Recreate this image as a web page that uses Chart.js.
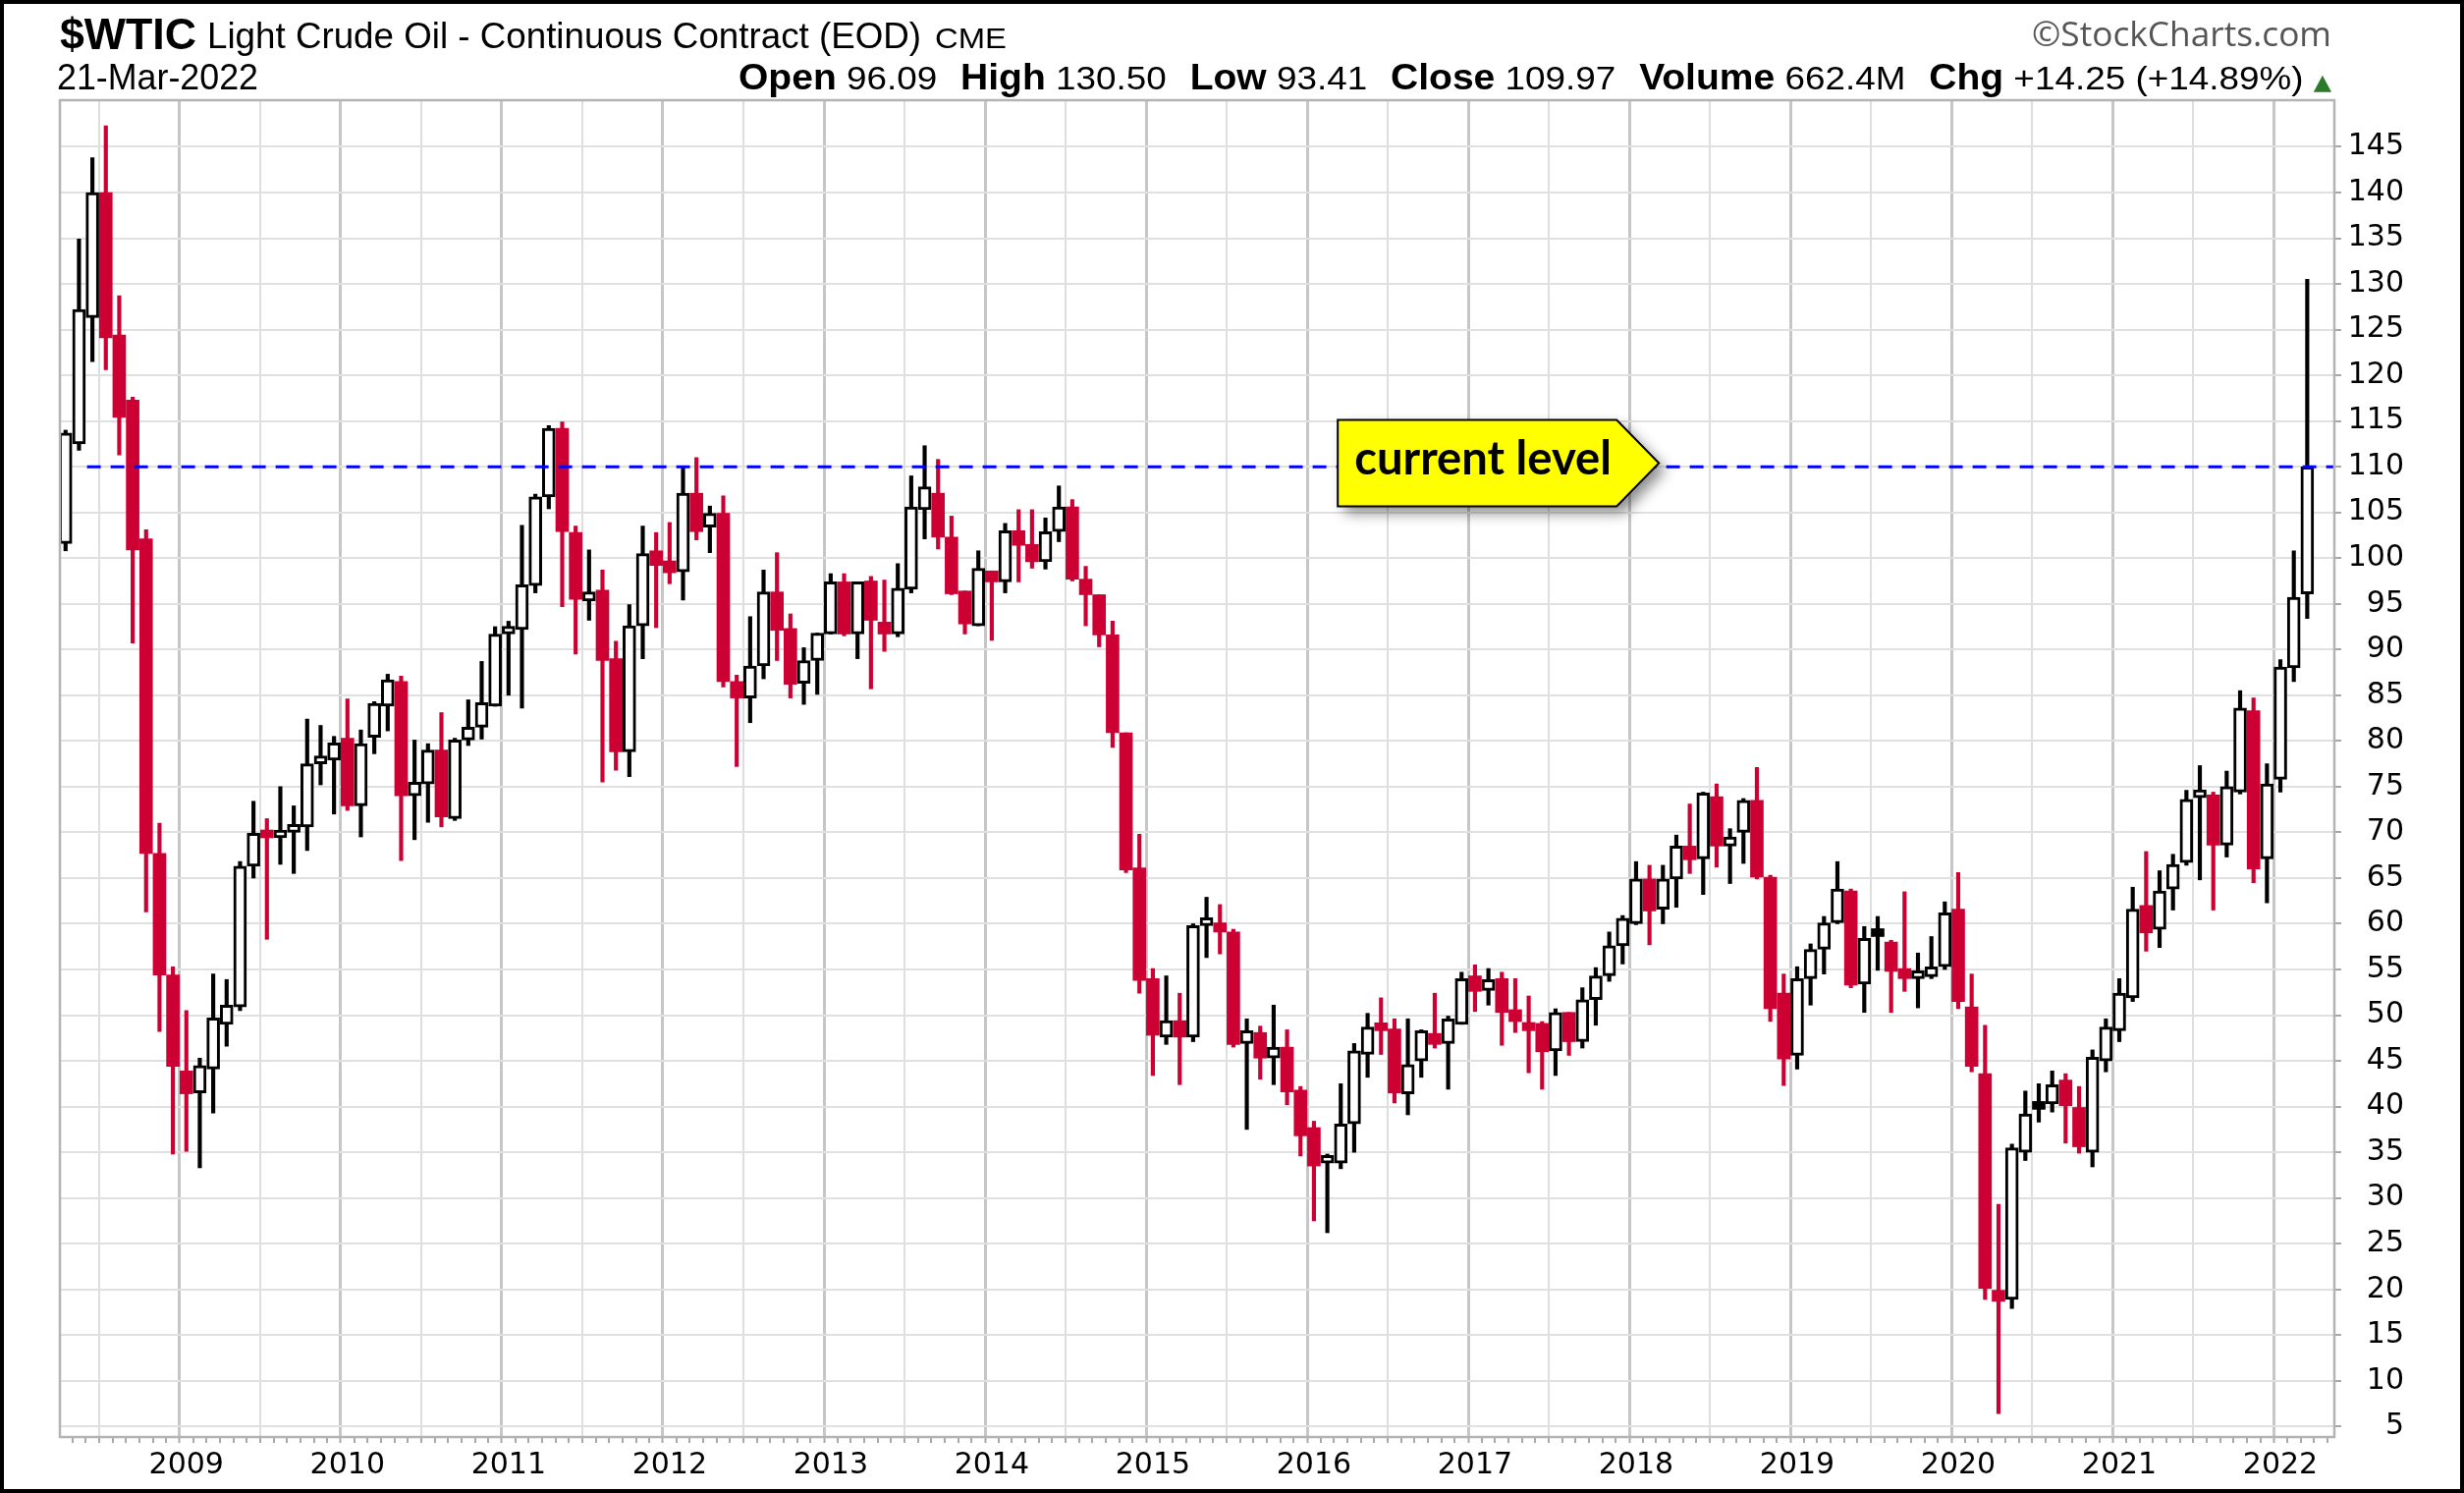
<!DOCTYPE html>
<html>
<head>
<meta charset="utf-8">
<script src="https://cdn.jsdelivr.net/npm/chart.js@4.4.1/dist/chart.umd.min.js"></script>
<style>
  html, body { margin: 0; padding: 0; background: #fff; overflow: hidden; }
  #wrap { position: relative; width: 2509px; height: 1520px; background: #fff; overflow: hidden; }
  #chart { position: absolute; left: 0; top: 0; }
  .frame { position: absolute; left: 0; top: 0; width: 2509px; height: 1520px; box-sizing: border-box; border: 4px solid #000; pointer-events: none; }
  .hd { position: absolute; white-space: nowrap; line-height: 1; transform-origin: 0 0; color: #000; font-family: "Liberation Sans", Arial, sans-serif; }
  .hd b { font-size: 36px; }
  .gap { display: inline-block; width: 22px; }
</style>
</head>
<body>
<div id="wrap">
  <canvas id="chart" width="2509" height="1520"></canvas>

  <div class="hd fit" data-w="139" style="left:61px;top:12px;font-size:45px;font-weight:bold;">$WTIC</div>
  <div class="hd fit" data-w="727" style="left:211px;top:18px;font-size:37px;">Light Crude Oil - Continuous Contract (EOD)</div>
  <div class="hd fit" data-w="73" style="left:952px;top:24px;font-size:30px;">CME</div>
  <div class="hd fit" data-w="305" style="left:2069px;top:17px;font-size:34px;color:#555;font-family:'Open Sans',sans-serif;">©StockCharts.com</div>

  <div class="hd fit" data-w="205" style="left:58px;top:61px;font-size:36px;">21-Mar-2022</div>
  <div class="hd fit" data-w="1622" style="left:752px;top:61px;font-size:34px;"><b>Open</b> 96.09<span class="gap"></span><b>High</b> 130.50<span class="gap"></span><b>Low</b> 93.41<span class="gap"></span><b>Close</b> 109.97<span class="gap"></span><b>Volume</b> 662.4M<span class="gap"></span><b>Chg</b> +14.25 (+14.89%) <span style="color:#2a7a2a;font-family:'DejaVu Sans';font-size:22px;">▲</span></div>

  <div class="frame"></div>
</div>

<script>
// monthly candles, index 0 = Apr 2008 ... last = Mar 2022
const firstMonth = 4; // April
const yearLabels = ['2009','2010','2011','2012','2013','2014','2015','2016','2017','2018','2019','2020','2021','2022'];

const opens = [
  101.6, 112.5, 126.3, 140.0, 124.4, 117.3, 102.1, 67.7, 54.4,               // 2008
  43.9, 41.5, 44.1, 49.0, 50.9, 66.3, 69.9, 69.4, 70.0, 70.6, 77.5, 77.9,    // 2009
  80.3, 72.9, 80.4, 83.8, 86.5, 74.0, 75.3, 79.0, 71.5, 80.1, 81.5, 83.8,    // 2010
  91.7, 92.2, 97.0, 106.7, 114.2, 102.8, 95.3, 96.5, 89.0, 78.8, 92.6, 100.8, // 2011
  99.7, 98.5, 107.1, 103.4, 104.9, 86.5, 84.7, 88.2, 96.3, 92.3, 86.3, 88.8, // 2012
  91.7, 97.4, 91.7, 97.5, 93.0, 91.7, 96.6, 105.3, 107.1, 102.3, 96.4, 92.6, // 2013
  98.6, 97.4, 103.0, 101.5, 99.6, 102.9, 105.6, 97.7, 96.0, 91.6, 80.9, 66.1, // 2014
  54.0, 47.6, 49.4, 47.6, 59.8, 60.1, 59.1, 46.9, 48.1, 45.3, 46.5, 41.8,    // 2015
  37.7, 33.8, 33.8, 38.1, 45.7, 48.7, 48.5, 41.4, 45.0, 48.0, 46.9, 49.0,    // 2016
  54.3, 52.7, 54.0, 50.6, 49.2, 49.1, 46.1, 50.3, 47.1, 51.7, 54.3, 57.6,    // 2017
  60.0, 64.9, 61.6, 64.9, 68.5, 67.1, 73.9, 68.5, 70.0, 73.5, 65.1, 52.4,    // 2018
  45.6, 54.0, 57.2, 60.1, 63.6, 53.4, 59.3, 58.0, 55.1, 54.0, 54.2, 55.3,    // 2019
  61.6, 50.9, 43.6, 19.9, 18.9, 35.0, 40.1, 40.3, 42.9, 39.9, 35.0, 45.0,    // 2020
  48.3, 51.9, 62.0, 59.4, 63.8, 66.7, 73.8, 74.1, 68.6, 74.4, 83.3, 67.1,    // 2021
  75.8, 88.0, 96.09                                                           // 2022
];
const highs = [
  114.0, 134.9, 143.8, 147.3, 128.7, 117.6, 103.1, 71.0, 55.3,
  50.5, 45.3, 54.5, 53.9, 66.8, 73.4, 71.5, 75.0, 72.9, 82.4, 81.7, 80.5,
  84.6, 81.2, 84.3, 87.3, 87.1, 80.1, 79.7, 83.1, 80.3, 84.5, 88.7, 92.5,
  93.1, 103.6, 107.0, 114.5, 114.9, 103.5, 100.9, 98.7, 90.9, 94.9, 103.5, 102.8,
  103.9, 110.1, 111.0, 105.7, 106.8, 87.2, 93.6, 98.7, 100.6, 93.9, 90.2, 91.8,
  98.3, 98.3, 97.4, 98.0, 97.6, 99.4, 109.0, 112.3, 110.8, 104.6, 96.4, 100.8,
  98.6, 103.8, 105.3, 105.3, 104.4, 107.9, 106.4, 99.1, 96.0, 93.1, 80.9, 69.8,
  55.1, 54.3, 52.4, 60.0, 62.9, 62.1, 59.4, 49.6, 48.8, 51.1, 48.4, 42.2,
  38.4, 34.8, 42.5, 46.9, 50.2, 51.9, 49.6, 49.6, 48.4, 52.4, 49.9, 54.7,
  55.5, 55.1, 54.7, 54.0, 52.1, 49.3, 50.7, 50.3, 53.0, 55.2, 59.1, 60.9,
  66.8, 66.4, 66.4, 69.7, 73.1, 74.4, 75.3, 70.4, 73.7, 77.1, 65.3, 54.5,
  55.3, 57.8, 60.8, 66.8, 63.8, 59.7, 60.8, 58.2, 63.5, 56.8, 58.6, 62.4,
  65.6, 54.5, 48.9, 29.3, 35.9, 41.7, 42.5, 43.9, 43.6, 42.2, 46.2, 49.6,
  54.0, 64.0, 67.9, 65.8, 67.6, 74.6, 77.3, 74.4, 76.7, 85.5, 84.7, 77.5,
  88.9, 100.8, 130.5
];
const lows = [
  100.8, 111.8, 121.5, 120.6, 111.3, 90.7, 61.3, 48.2, 34.8,
  35.1, 33.3, 39.3, 46.6, 50.5, 65.0, 58.3, 66.5, 65.5, 68.0, 75.2, 72.0,
  72.4, 69.5, 78.6, 81.1, 66.9, 69.2, 71.1, 70.6, 71.3, 79.5, 80.2, 83.8,
  85.0, 83.6, 96.2, 105.4, 94.7, 89.5, 93.2, 75.5, 76.8, 76.1, 89.0, 92.4,
  97.2, 95.4, 102.0, 100.6, 85.9, 77.2, 82.0, 86.8, 88.8, 84.7, 84.0, 85.1,
  91.7, 91.5, 89.0, 85.7, 89.8, 91.4, 96.2, 102.1, 101.0, 96.0, 91.7, 92.6,
  91.0, 96.2, 97.4, 98.9, 98.8, 101.8, 97.5, 92.6, 90.3, 79.3, 65.6, 52.4,
  43.4, 46.8, 42.4, 47.1, 56.3, 56.7, 46.5, 37.5, 43.0, 42.4, 40.2, 34.6,
  27.5, 26.2, 33.2, 35.0, 43.2, 45.7, 40.4, 39.1, 43.2, 46.4, 41.9, 49.0,
  50.4, 51.1, 46.7, 48.1, 43.7, 41.9, 43.4, 45.6, 46.4, 48.9, 53.7, 55.6,
  59.9, 57.7, 60.0, 61.8, 65.5, 63.2, 66.2, 64.4, 66.6, 64.9, 49.3, 42.3,
  44.1, 51.1, 54.5, 60.0, 53.0, 50.3, 54.9, 50.3, 52.6, 50.8, 54.0, 55.0,
  50.7, 43.8, 18.9, 6.4, 17.9, 34.1, 38.3, 39.4, 36.0, 34.9, 33.4, 43.8,
  47.1, 51.5, 57.0, 57.4, 61.5, 66.4, 64.8, 61.5, 67.3, 74.2, 64.5, 62.3,
  74.4, 86.5, 93.41
];
const closes = [
  113.7, 127.2, 140.0, 124.1, 115.4, 100.9, 67.7, 54.4, 44.4,
  41.4, 44.5, 49.7, 51.1, 66.3, 69.9, 69.4, 70.0, 70.6, 77.5, 77.9, 79.8,
  72.9, 79.7, 84.1, 86.7, 74.0, 75.5, 79.0, 71.7, 80.1, 81.5, 84.2, 91.7,
  92.0, 97.1, 106.7, 114.2, 102.9, 95.5, 96.3, 88.8, 78.8, 92.6, 100.5, 99.2,
  98.4, 107.1, 102.9, 104.9, 86.5, 84.7, 88.2, 96.3, 92.1, 86.2, 88.8, 91.8,
  97.4, 91.7, 97.4, 93.2, 91.7, 96.7, 105.6, 107.8, 102.3, 96.1, 92.8, 98.9,
  97.4, 103.0, 101.4, 99.6, 102.9, 105.6, 97.7, 96.0, 91.6, 80.9, 65.9, 53.8,
  47.8, 49.4, 47.6, 59.8, 60.1, 59.1, 46.8, 48.3, 45.3, 46.5, 41.6, 36.8,
  33.5, 33.9, 38.1, 46.1, 48.7, 48.3, 41.5, 44.6, 48.3, 46.8, 49.6, 54.0,
  52.6, 53.9, 50.3, 49.3, 48.3, 46.0, 50.3, 47.1, 51.7, 54.3, 57.6, 60.6,
  64.9, 61.4, 64.9, 68.5, 67.0, 74.3, 68.5, 69.5, 73.5, 65.1, 50.7, 45.2,
  54.0, 57.2, 60.1, 63.8, 53.3, 58.4, 58.6, 54.8, 54.0, 54.2, 55.3, 61.2,
  51.5, 44.4, 20.1, 18.7, 35.5, 39.2, 39.7, 42.4, 40.1, 35.6, 45.4, 48.7,
  52.4, 61.6, 59.0, 63.6, 66.5, 73.6, 74.4, 68.6, 75.0, 83.6, 66.0, 75.3,
  88.1, 95.72, 109.97
];

const priceTicks = [5, 10, 15, 20, 25, 30, 35, 40, 45, 50, 55, 60, 65, 70, 75, 80, 85, 90, 95, 100, 105, 110, 115, 120, 125, 130, 135, 140, 145];

// "current level" line and its callout
const levelValue = 110;
const levelFrom = 1.6, levelTo = 169.05;
const calloutText = 'current level';
const calloutTip = [118.7, 110.4];

const upColor = '#000000';
const downColor = '#cc0033';

// StockCharts style: hollow when close > open, red when close < previous close
const candleColor = closes.map((c, i) => c < (i > 0 ? closes[i - 1] : opens[i]) ? downColor : upColor);
const hollow = closes.map((c, i) => c >= opens[i]);

const monthTicks = [];
for (let i = 0; i <= 168; i++) monthTicks.push(i);
const monthOf = v => (firstMonth - 1 + v) % 12; // 0 = January

// fit header texts to their widths
document.querySelectorAll('.fit').forEach(el => {
  const w = el.getBoundingClientRect().width;
  el.style.transform = `scaleX(${(+el.dataset.w / w).toFixed(4)})`;
});

const framePlugin = {
  id: 'frame',
  afterDatasetsDraw(chart) {
    const { ctx, chartArea: a } = chart;
    ctx.save();
    ctx.strokeStyle = '#b4b4b4';
    ctx.lineWidth = 2.5;
    ctx.strokeRect(a.left, a.top, a.right - a.left, a.bottom - a.top);
    ctx.restore();
  },
  afterDraw(chart) {
    const { ctx } = chart;
    const x = chart.scales.x, y = chart.scales.y;
    const tipX = x.getPixelForValue(calloutTip[0]);
    const tipY = y.getPixelForValue(calloutTip[1]);
    const h = 88, arrow = 43, w = 327;
    const left = tipX - w, right = tipX - arrow, top = tipY - h / 2, bottom = tipY + h / 2;
    ctx.save();
    ctx.beginPath();
    ctx.moveTo(left, top);
    ctx.lineTo(right, top);
    ctx.lineTo(tipX, tipY);
    ctx.lineTo(right, bottom);
    ctx.lineTo(left, bottom);
    ctx.closePath();
    ctx.shadowColor = 'rgba(0,0,0,0.45)';
    ctx.shadowBlur = 14;
    ctx.shadowOffsetX = 7;
    ctx.shadowOffsetY = 7;
    ctx.fillStyle = '#ffff00';
    ctx.fill();
    ctx.shadowColor = 'transparent';
    ctx.lineWidth = 2;
    ctx.strokeStyle = '#000';
    ctx.stroke();

    let size = 46;
    ctx.font = `bold ${size}px Lato`;
    size = size * 262 / ctx.measureText(calloutText).width;
    ctx.font = `bold ${size.toFixed(1)}px Lato`;
    ctx.fillStyle = '#000';
    ctx.textAlign = 'left';
    ctx.textBaseline = 'alphabetic';
    ctx.fillText(calloutText, left + 17, tipY + 12);
    ctx.restore();
  }
};

new Chart(document.getElementById('chart'), {
  type: 'bar',
  data: {
    datasets: [
      {
        type: 'line',
        data: [{ x: levelFrom, y: levelValue }, { x: levelTo, y: levelValue }],
        borderColor: '#0000ff',
        borderWidth: 3,
        borderDash: [14, 10],
        pointRadius: 0,
        clip: 12,
        order: 0
      },
      {
        type: 'bar',
        data: opens.map((o, i) => ({ x: i, y: [o, closes[i]] })),
        backgroundColor: candleColor.map((c, i) => hollow[i] ? '#ffffff' : c),
        borderColor: candleColor,
        borderWidth: hollow.map(h => h ? 3 : 0),
        borderSkipped: false,
        barThickness: 13,
        minBarLength: 8,
        grouped: false,
        order: 1
      },
      {
        type: 'bar',
        data: lows.map((l, i) => ({ x: i, y: [l, highs[i]] })),
        backgroundColor: candleColor,
        borderWidth: 0,
        barThickness: 3.5,
        grouped: false,
        order: 2
      }
    ]
  },
  options: {
    responsive: false,
    devicePixelRatio: 1,
    animation: false,
    layout: { padding: { left: 61, top: 102, right: 61, bottom: 0 } },
    plugins: { legend: { display: false }, tooltip: { enabled: false } },
    scales: {
      x: {
        type: 'linear',
        min: 0.08,
        max: 168.52,
        afterBuildTicks: s => { s.ticks = monthTicks.map(v => ({ value: v })); },
        afterFit: s => { s.height = 57; },
        ticks: {
          autoSkip: false,
          maxRotation: 0,
          minRotation: 0,
          padding: 5,
          color: '#000',
          font: { family: 'DejaVu Sans', size: 30 },
          callback: v => monthOf(v) === 0 ? yearLabels[(v - 9) / 12] : ''
        },
        grid: {
          color: c => {
            const v = c.tick ? c.tick.value : -1;
            if (monthOf(v) === 0) return '#c6c6c6';
            if (monthOf(v) === 6) return '#dedede';
            return 'rgba(0,0,0,0)';
          },
          lineWidth: c => {
            const v = c.tick ? c.tick.value : -1;
            if (monthOf(v) === 0) return 3;
            if (monthOf(v) === 6) return 2;
            return 0;
          },
          tickColor: '#a8a8a8',
          tickWidth: 2,
          tickLength: 6
        },
        border: { display: false }
      },
      y: {
        position: 'right',
        min: 3.85,
        max: 150.1,
        afterBuildTicks: s => { s.ticks = priceTicks.map(v => ({ value: v })); },
        afterFit: s => { s.width = 71; },
        ticks: {
          crossAlign: 'far',
          padding: 6,
          color: '#000',
          font: { family: 'DejaVu Sans', size: 30 },
          callback: v => String(v)
        },
        grid: {
          color: '#e0e0e0',
          lineWidth: 2,
          tickColor: '#a8a8a8',
          tickWidth: 2,
          tickLength: 7
        },
        border: { display: false }
      }
    }
  },
  plugins: [framePlugin]
});
</script>
</body>
</html>
